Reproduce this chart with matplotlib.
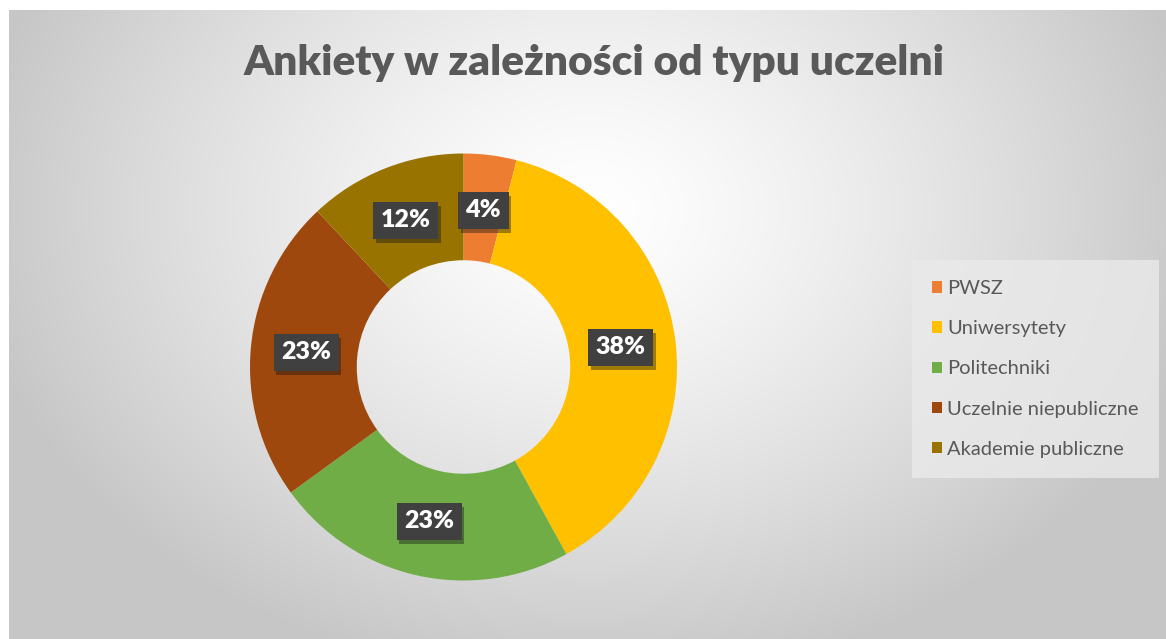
import matplotlib
matplotlib.use("Agg")
import matplotlib.pyplot as plt
import matplotlib.patheffects as pe
import numpy as np

plt.rcParams['font.family'] = ['Lato', 'DejaVu Sans']

# Data
categories = ["PWSZ", "Uniwersytety", "Politechniki", "Uczelnie niepubliczne", "Akademie publiczne"]
shares = [4, 38, 23, 23, 12]
colors = ["#ED7D31", "#FFC000", "#70AD47", "#9E480E", "#997300"]
title = "Ankiety w zależności od typu uczelni"

W, H = 1166, 639
fig = plt.figure(figsize=(W / 100, H / 100), dpi=100, facecolor="white")

# Background with radial gradient (light centre, gray edges)
bg = fig.add_axes([9 / W, 0, 1 - 9 / W, 1 - 10 / H])
bg.set_axis_off()
yy, xx = np.mgrid[0:629, 0:1157]
d = np.sqrt(((xx - 580) / 620.0) ** 2 + ((yy - 200) / 470.0) ** 2)
val = 1.0 - 0.22 * np.clip(d, 0, 1) ** 1.3
bg.imshow(np.dstack([val, val, val]), aspect="auto", extent=[0, 1, 0, 1], origin="upper")
bg.set_xlim(0, 1)
bg.set_ylim(0, 1)

# Donut
cx, cy, r = 463.5, H - 367, 213.5
ax = fig.add_axes([(cx - r) / W, (cy - r) / H, 2 * r / W, 2 * r / H])
ax.set_axis_off()
wedges, _ = ax.pie(shares, colors=colors, startangle=90, counterclock=False, radius=1,
                   wedgeprops=dict(width=0.5, linewidth=0))
ax.set_xlim(-1, 1)
ax.set_ylim(-1, 1)

# Data labels in dark boxes
angle = 90.0
for s in shares:
    mid = np.deg2rad(angle - s * 3.6 / 2)
    angle -= s * 3.6
    t = ax.text(0.74 * np.cos(mid), 0.74 * np.sin(mid), f"{s}%", ha="center", va="center",
                color="white", fontsize=18, fontweight="heavy",
                bbox=dict(boxstyle="square,pad=0.3", facecolor="#404040", edgecolor="none"))
    t.get_bbox_patch().set_path_effects([pe.SimplePatchShadow(offset=(2, -3), alpha=0.4), pe.Normal()])

fig.text(594 / W, 1 - 63 / H, title, ha="center", va="center", fontsize=30.5,
         fontweight="heavy", color="#595959")

leg = fig.legend(wedges, categories, loc="center left", bbox_to_anchor=(918 / W, 1 - 369 / H),
                 frameon=True, fontsize=14.5, labelspacing=1.15, handlelength=0.5,
                 handleheight=0.5, handletextpad=0.25, borderpad=0.7, borderaxespad=0,
                 labelcolor="#595959")
leg.get_frame().set_facecolor("#eaeaea")
leg.get_frame().set_edgecolor("none")
leg.get_frame().set_boxstyle("square")

fig.savefig("out.png", dpi=100, facecolor="white")
